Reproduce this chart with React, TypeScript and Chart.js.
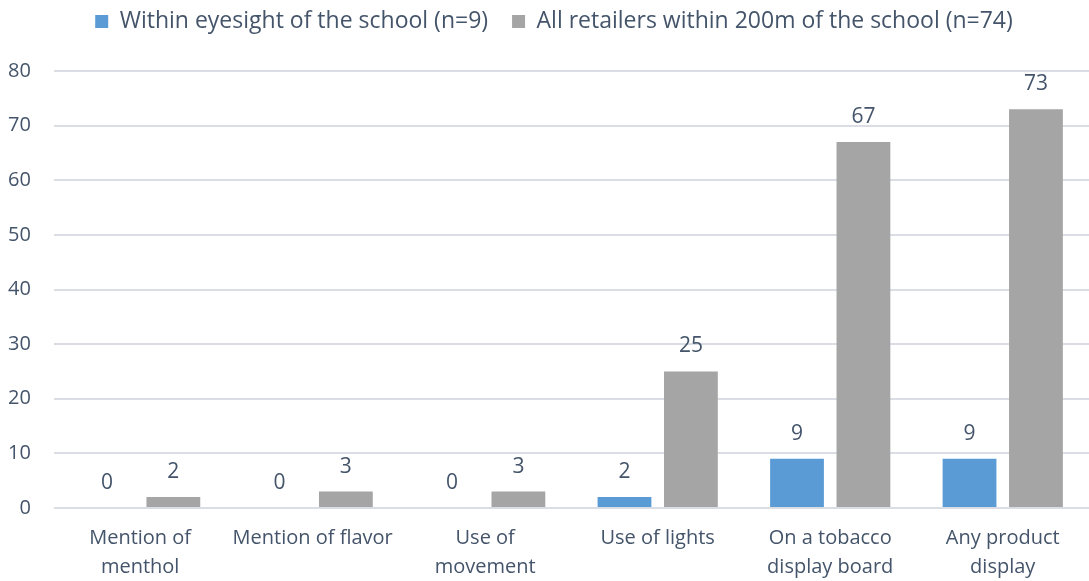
import React, { useEffect, useRef } from "react";
import { Chart, registerables } from "chart.js";

Chart.register(...registerables);

const categories: string[][] = [
  ["Mention of", "menthol"],
  ["Mention of flavor"],
  ["Use of", "movement"],
  ["Use of lights"],
  ["On a tobacco", "display board"],
  ["Any product", "display"],
];

const withinEyesight: number[] = [0, 0, 0, 2, 9, 9];
const within200m: number[] = [2, 3, 3, 25, 67, 73];

const yTicks = { min: 0, max: 80, step: 10 };

const TEXT = "#44546A";
const FONT = "'Open Sans', 'Noto Sans', sans-serif";

// Writes each bar's value just above its top edge
const valueLabels = {
  id: "valueLabels",
  afterDatasetsDraw(chart: any) {
    const ctx = chart.ctx;
    ctx.save();
    ctx.font = `21px ${FONT}`;
    ctx.fillStyle = TEXT;
    ctx.textAlign = "center";
    ctx.textBaseline = "middle";
    chart.data.datasets.forEach((ds: any, i: number) => {
      const meta = chart.getDatasetMeta(i);
      meta.data.forEach((bar: any, j: number) => {
        ctx.fillText(String(ds.data[j]), bar.x, bar.y - 25);
      });
    });
    ctx.restore();
  },
};

// Legend sizing and placement: room below it, and a small nudge up and right
const legendPlacement = {
  id: "legendPlacement",
  beforeInit(chart: any) {
    const orig = chart.legend.fit;
    chart.legend.fit = function () {
      orig.call(this);
      this.height += 14;
    };
  },
  afterLayout(chart: any) {
    const lg = chart.legend;
    lg.top -= 14;
    lg.bottom -= 14;
    lg.left += 17;
    lg.right += 17;
  },
};

export default function App() {
  const ref = useRef<HTMLCanvasElement>(null);

  useEffect(() => {
    document.body.style.margin = "0";
    const chart = new Chart(ref.current!, {
      type: "bar",
      data: {
        labels: categories,
        datasets: [
          {
            label: "Within eyesight of the school (n=9)",
            data: withinEyesight,
            backgroundColor: "#5B9BD5",
            categoryPercentage: 0.77,
            barPercentage: 0.81,
          },
          {
            label: "All retailers within 200m of the school (n=74)",
            data: within200m,
            backgroundColor: "#A5A5A5",
            categoryPercentage: 0.77,
            barPercentage: 0.81,
          },
        ],
      },
      options: {
        animation: false,
        responsive: true,
        maintainAspectRatio: false,
        layout: { padding: { left: -15, right: 0, top: 0, bottom: -9 } },
        plugins: {
          legend: {
            position: "top",
            labels: {
              boxWidth: 13,
              boxHeight: 13,
              padding: 24,
              color: TEXT,
              font: { size: 23, family: FONT },
            },
          },
          tooltip: { enabled: false },
        },
        scales: {
          x: {
            grid: { display: false },
            border: { display: false },
            ticks: {
              color: TEXT,
              font: { size: 20, family: FONT, lineHeight: 1.45 },
              padding: 8,
              maxRotation: 0,
              autoSkip: false,
            },
          },
          y: {
            min: yTicks.min,
            max: yTicks.max,
            grid: { color: "#DADEE4", lineWidth: 2, drawTicks: false },
            border: { display: false },
            ticks: {
              stepSize: yTicks.step,
              color: TEXT,
              font: { size: 20, family: FONT },
              padding: 23,
            },
          },
        },
      },
      plugins: [valueLabels, legendPlacement],
    });
    return () => chart.destroy();
  }, []);

  return (
    <div style={{ width: 1089, height: 581, position: "relative" }}>
      <canvas ref={ref} />
    </div>
  );
}
